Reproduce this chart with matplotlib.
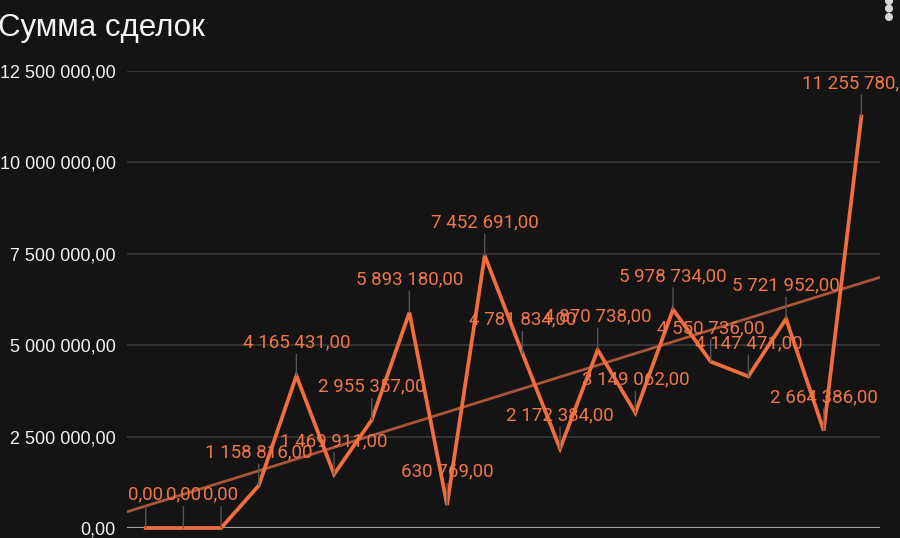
import matplotlib.pyplot as plt
import numpy as np
from matplotlib.ticker import FuncFormatter
from matplotlib.patches import Circle

# Сумма сделок по периодам
values = [0, 0, 0, 1158816, 4165431, 1469911, 2955357, 5893180, 630769, 7452691,
          4781834, 2172384, 4870738, 3149062, 5978734, 4550736, 4147471, 5721952,
          2664386, 11255780]
y_ticks = [0, 2500000, 5000000, 7500000, 10000000, 12500000]
title = "Сумма сделок"

bg = '#151414'
orange = '#f26d3d'
label_col = '#f07648'
trend_col = '#a9553a'


def fmt_ru(v, pos=None):
    s = f"{v:,.2f}".replace(",", " ").replace(".", ",")
    return s


x = np.arange(len(values))

fig = plt.figure(figsize=(9, 5.38), dpi=100, facecolor=bg)
ax = fig.add_axes([0.141, 0.0186, 0.837, 0.8494])
ax.set_facecolor(bg)

# gridlines
for t in y_ticks[1:]:
    ax.axhline(t, color='#3a3a3a', lw=1.2, zorder=1)
ax.axhline(0, color='#a0a0a0', lw=1.6, zorder=1)

# trend line (linear regression)
k, b = np.polyfit(x, values, 1)
xt = np.array([-0.5, len(values) - 0.5])
ax.plot(xt, k * xt + b, color=trend_col, lw=2, zorder=2, solid_capstyle='butt')

ax.plot(x, values, color=orange, lw=2.7, zorder=3, clip_on=False,
        solid_joinstyle='miter')

for xi, v in zip(x, values):
    ax.annotate(fmt_ru(v), xy=(xi, v), xytext=(0, 24), textcoords='offset points',
                ha='center', va='center', color=label_col, fontsize=13.5,
                family='Roboto', zorder=5, annotation_clip=False,
                arrowprops=dict(arrowstyle='-', color='#555555', lw=1,
                                shrinkA=0, shrinkB=0, relpos=(0.5, 0)))

ax.set_xlim(-0.5, len(values) - 0.5)
ax.set_ylim(0, 12500000)
ax.set_yticks(y_ticks)
ax.yaxis.set_major_formatter(FuncFormatter(fmt_ru))
ax.set_xticks([])
ax.tick_params(axis='y', length=0, pad=8, labelcolor='#f2f2f2', labelsize=13)
for lab in ax.get_yticklabels():
    lab.set_family('Liberation Sans')
for s in ax.spines.values():
    s.set_visible(False)

fig.text(-0.002, 0.948, title, color='#f4f4f4', fontsize=22.5,
         family='Liberation Sans', ha='left', va='center')

# menu dots
for yy in [538 - 1, 538 - 8.5, 538 - 17]:
    fig.patches.append(Circle((889, yy), 3.3, transform=None, color='#d8d8d8'))

fig.savefig('out.png', dpi=100, facecolor=bg)
